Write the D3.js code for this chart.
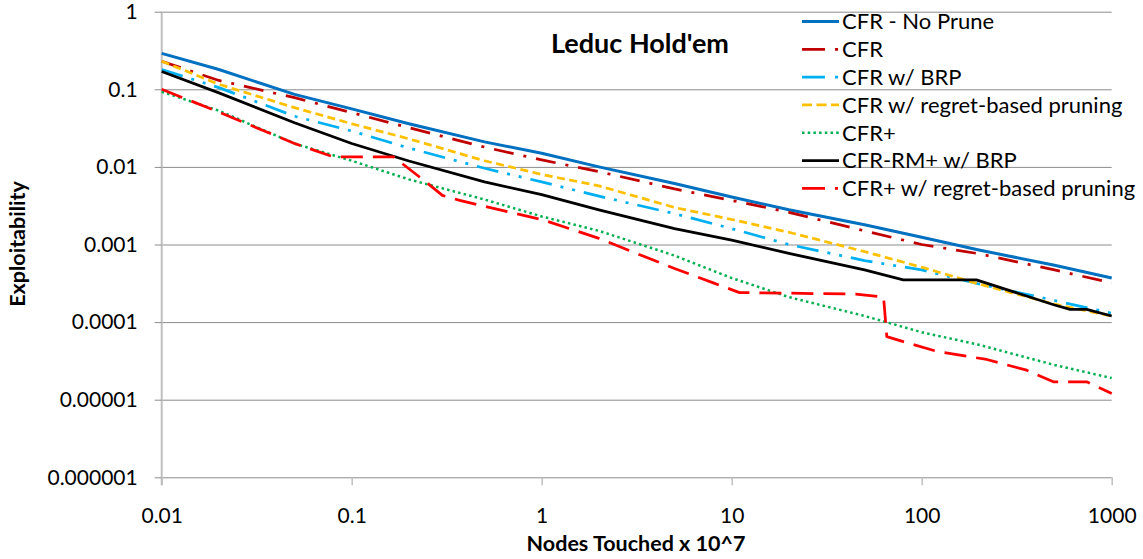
<!DOCTYPE html>
<html>
<head>
<meta charset="utf-8">
<script src="https://cdn.jsdelivr.net/npm/d3@7"></script>
<style>
    body { margin: 0; background: #fff; }
    text { font-family: Lato, "Open Sans", sans-serif; fill: #000; }
</style>
</head>
<body>
<svg id="chart" width="1143" height="559"></svg>
<script>
'use strict';

// values (log-log chart)
var xTicks = [0.01, 0.1, 1, 10, 100, 1000],
    xTickLabels = ["0.01", "0.1", "1", "10", "100", "1000"],
    yTicks = [1, 0.1, 0.01, 0.001, 0.0001, 0.00001, 0.000001],
    yTickLabels = ["1", "0.1", "0.01", "0.001", "0.0001", "0.00001", "0.000001"];

var xGrid = [0.01, 0.02, 0.05, 0.1, 0.2, 0.5, 1, 2, 5, 10, 20, 50, 100, 200, 500, 1000];

var noPruneY = [0.29, 0.18, 0.086, 0.056, 0.036, 0.021, 0.015, 0.0100, 0.0061, 0.0041, 0.0028, 0.0018, 0.00124, 0.00085, 0.00054, 0.00037];
var cfrY = [0.23, 0.13, 0.078, 0.050, 0.032, 0.018, 0.0123, 0.0087, 0.0052, 0.0037, 0.0026, 0.0015, 0.0010, 0.00076, 0.00047, 0.00032];
var brpY = [0.18, 0.105, 0.045, 0.029, 0.0175, 0.0096, 0.0064, 0.0042, 0.0025, 0.0016, 0.0010, 0.00062, 0.00047, 0.00031, 0.00019, 0.00013];
var regretY = [0.23, 0.116, 0.058, 0.036, 0.023, 0.012, 0.0080, 0.0057, 0.0030, 0.0021, 0.00144, 0.00081, 0.00051, 0.00031, 0.00017, 0.00012];
var cfrPlusY = [0.093, 0.053, 0.020, 0.012, 0.0069, 0.0038, 0.0023, 0.0015, 0.00072, 0.00037, 0.00021, 0.00012, 0.000074, 0.000051, 0.000028, 0.000019];

var rmBrpX = [0.01, 0.02, 0.05, 0.1, 0.2, 0.5, 1, 2, 5, 10, 20, 50, 80, 194, 500, 604, 738, 1000];
var rmBrpY = [0.17, 0.09, 0.037, 0.020, 0.0119, 0.0064, 0.0044, 0.0028, 0.0016, 0.00114, 0.00077, 0.00047, 0.00035, 0.00035, 0.000166, 0.000146, 0.000146, 0.00012];

var plusRegretX = [0.01, 0.02, 0.05, 0.08, 0.166, 0.25, 0.3, 0.37, 0.5, 1, 2, 5, 8, 11, 45, 63, 65.5, 80, 120, 220, 357, 493, 738, 1000];
var plusRegretY = [0.10, 0.051, 0.020, 0.0135, 0.0135, 0.0062, 0.0043, 0.0037, 0.0031, 0.0021, 0.0012, 0.00049, 0.00032, 0.00024, 0.00023, 0.00021, 0.000065, 0.000056, 0.000042, 0.000033, 0.000024, 0.000017, 0.000017, 0.000012];

var seriesNames = ["CFR - No Prune", "CFR", "CFR w/ BRP", "CFR w/ regret-based pruning",
    "CFR+", "CFR-RM+ w/ BRP", "CFR+ w/ regret-based pruning"];

var series = [
    { name: seriesNames[0], x: xGrid, y: noPruneY, color: "#0070C0", width: 3, dash: null, legendDash: null },
    { name: seriesNames[1], x: xGrid, y: cfrY, color: "#C00000", width: 2.75, dash: "20,10,3,10", legendDash: "23,10,3,10" },
    { name: seriesNames[2], x: xGrid, y: brpY, color: "#00B0F0", width: 2.75, dash: "22,9,3,9,3,9", legendDash: "23,10,3,10" },
    { name: seriesNames[3], x: xGrid, y: regretY, color: "#FFC000", width: 2.75, dash: "8,4.5", legendDash: "10,4.5" },
    { name: seriesNames[4], x: xGrid, y: cfrPlusY, color: "#00B050", width: 2.5, dash: "2.5,3.2", legendDash: "2.5,3.2" },
    { name: seriesNames[5], x: rmBrpX, y: rmBrpY, color: "#000000", width: 2.75, dash: null, legendDash: null },
    { name: seriesNames[6], x: plusRegretX, y: plusRegretY, color: "#FF0000", width: 2.75, dash: "22,10", legendDash: "23,10,3,10" }
];

var svg = d3.select("#chart"),
    plotLeft = 161.7, plotRight = 1111.7, plotTop = 11.7, plotBottom = 477.3;

var x = d3.scaleLog().domain([0.01, 1000]).range([plotLeft, plotRight]),
    y = d3.scaleLog().domain([0.000001, 1]).range([plotBottom, plotTop]);

// horizontal gridlines
svg.append("g")
    .attr("class", "grid")
    .attr("transform", "translate(" + plotLeft + ",0)")
    .call(d3.axisLeft(y).tickValues(yTicks).tickSize(-(plotRight - plotLeft)).tickFormat(""))
    .call(function(g) {
        g.select(".domain").remove();
        g.selectAll("line").style("stroke", "#8c8c8c").style("stroke-width", 1);
    });

// y axis
svg.append("g")
    .attr("transform", "translate(" + plotLeft + ",0)")
    .call(d3.axisLeft(y).tickValues(yTicks).tickSize(7).tickPadding(17)
        .tickFormat(function(d, i) { return yTickLabels[i]; }))
    .call(function(g) {
        g.select(".domain").attr("d", "M0," + plotTop + "V" + (plotBottom + 8))
            .style("stroke", "#bfbfbf").style("stroke-width", 2);
        g.selectAll("line").style("stroke", "#8c8c8c");
        g.selectAll("text").style("font-size", "21px").style("font-family", "Lato");
    });

// x axis
svg.append("g")
    .attr("transform", "translate(0," + plotBottom + ")")
    .call(d3.axisBottom(x).tickValues(xTicks).tickSize(8).tickPadding(23)
        .tickFormat(function(d, i) { return xTickLabels[i]; }))
    .call(function(g) {
        g.select(".domain").remove();
        g.selectAll("line").style("stroke", "#bfbfbf").style("stroke-width", 1.5);
        g.selectAll("text").style("font-size", "21px").style("font-family", "Lato");
    });

// series lines
var line = d3.line()
    .x(function(d) { return x(d[0]); })
    .y(function(d) { return y(d[1]); });

svg.append("g").attr("class", "lines")
    .selectAll("path")
    .data(series)
    .enter().append("path")
    .attr("d", function(s) { return line(d3.zip(s.x, s.y)); })
    .style("fill", "none")
    .style("stroke", function(s) { return s.color; })
    .style("stroke-width", function(s) { return s.width; })
    .style("stroke-dasharray", function(s) { return s.dash; })
    .style("stroke-linejoin", "round");

// legend
var legend = svg.append("g").attr("class", "legend")
    .selectAll("g")
    .data(series)
    .enter().append("g")
    .attr("transform", function(s, i) { return "translate(802," + (21.5 + i * 27.8) + ")"; });

legend.append("line")
    .attr("x1", 0).attr("x2", 37)
    .style("stroke", function(s) { return s.color; })
    .style("stroke-width", function(s) { return s.width; })
    .style("stroke-dasharray", function(s) { return s.legendDash; });

legend.append("text")
    .attr("x", 40)
    .attr("dy", "0.36em")
    .style("font-size", "22px")
    .text(function(s) { return s.name; });

// titles
svg.append("text")
    .attr("x", 640).attr("y", 53)
    .style("text-anchor", "middle")
    .style("font-weight", "bold")
    .style("font-size", "27px")
    .text("Leduc Hold'em");

svg.append("text")
    .attr("transform", "translate(25,244) rotate(-90)")
    .style("text-anchor", "middle")
    .style("font-weight", "bold")
    .style("font-size", "21.5px")
    .text("Exploitability");

svg.append("text")
    .attr("x", 636).attr("y", 551)
    .style("text-anchor", "middle")
    .style("font-weight", "bold")
    .style("font-size", "21.5px")
    .text("Nodes Touched x 10^7");
</script>
</body>
</html>
